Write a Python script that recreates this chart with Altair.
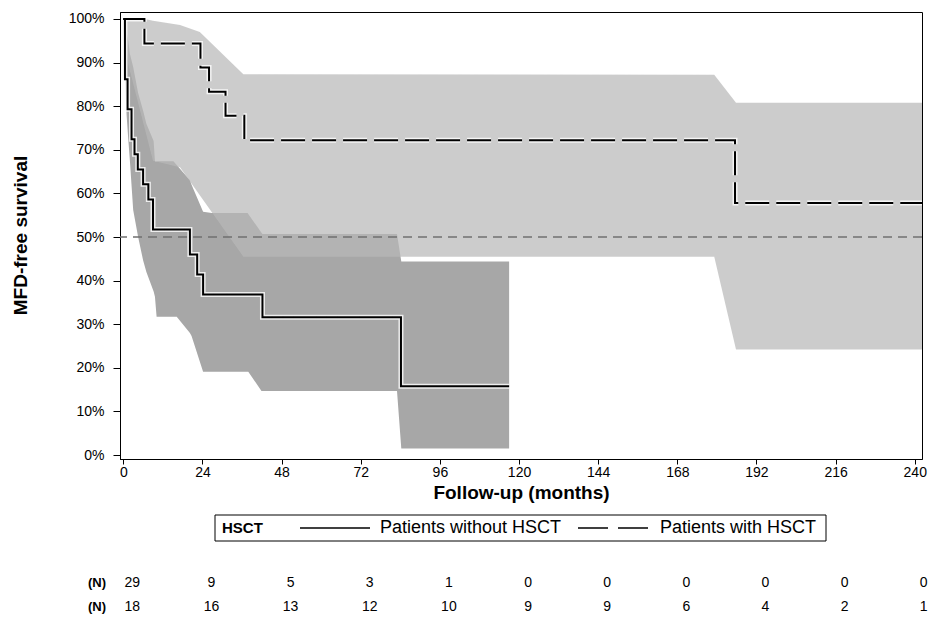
import altair as alt
import pandas as pd

# ---------------- data ----------------
GROUPS = ["Patients without HSCT", "Patients with HSCT"]
LEGEND_TITLE = "HSCT"

# Kaplan-Meier step curves (months, % MFD-free)
km_without_months = [0, 0.5, 1.3, 2.5, 3.4, 4.4, 6.0, 7.6, 9.0, 20.2, 22.4, 24.2, 42.2, 84.2, 117.0]
km_without_surv = [100, 86.2, 79.3, 72.4, 69.0, 65.5, 62.1, 58.6, 51.7, 46.0, 41.4, 36.8, 31.6, 15.8, 15.8]
km_with_months = [0, 6.4, 23.4, 26.0, 31.0, 36.7, 185.5, 242.2]
km_with_surv = [100, 94.4, 88.9, 83.3, 77.8, 72.2, 57.8, 57.8]

# confidence bands
band_without_months = [0, 0.3, 1, 1.5, 2, 3, 4.5, 6, 7, 9.2, 9.6, 10.1, 15.2, 16.2, 20.2, 20.7,
                       24.2, 26.8, 37.7, 37.9, 41.9, 42.2, 83, 84.3, 117]
band_without_upper = [100, 99, 97, 95, 92, 89, 83, 79, 76, 72, 67.4, 67.4, 67.4, 66.5, 63, 62,
                      55.8, 55.5, 55.5, 55.3, 51, 50.7, 50.7, 44.4, 44.4]
band_without_lower = [100, 91, 78, 72.5, 67.5, 56.2, 50, 44.7, 42, 37.5, 36.3, 31.7, 31.7, 31.7, 28, 27.3,
                      19.1, 19.1, 19.1, 19.1, 14.7, 14.7, 14.7, 1.5, 1.5]

band_with_months = [0, 1.5, 6.4, 6.6, 9, 17.2, 23.2, 36.4, 179.2, 185.8, 242.2]
band_with_upper = [100, 100, 100, 100, 99.6, 98.6, 97, 87.3, 87.2, 80.8, 80.8]
band_with_lower = [100, 89.6, 75.2, 74.6, 67.5, 66, 59.6, 45.5, 45.5, 24.2, 24.2]

# numbers at risk
risk_months = [0, 24, 48, 72, 96, 120, 144, 168, 192, 216, 240]
risk_without = [29, 9, 5, 3, 1, 0, 0, 0, 0, 0, 0]
risk_with = [18, 16, 13, 12, 10, 9, 9, 6, 4, 2, 1]

x_ticks = [0, 24, 48, 72, 96, 120, 144, 168, 192, 216, 240]
y_ticks = [0, 10, 20, 30, 40, 50, 60, 70, 80, 90, 100]

# ---------------- tables ----------------
km = pd.concat([
    pd.DataFrame({"month": km_without_months, "surv": km_without_surv, "group": GROUPS[0]}),
    pd.DataFrame({"month": km_with_months, "surv": km_with_surv, "group": GROUPS[1]}),
])
bandA = pd.DataFrame({"month": band_without_months, "upper": band_without_upper, "lower": band_without_lower})
bandB = pd.DataFrame({"month": band_with_months, "upper": band_with_upper, "lower": band_with_lower})
risk = pd.DataFrame({"month": risk_months, "n_without": risk_without, "n_with": risk_with})

FONT = "Liberation Sans"
xs = alt.Scale(domain=[-1, 242.2], nice=False, zero=False)
ys = alt.Scale(domain=[-0.9, 101.6], nice=False, zero=False)

xaxis = alt.Axis(values=x_ticks, title="Follow-up (months)", grid=False, tickSize=5, labelPadding=1,
                 labelFont=FONT, labelFontSize=14, labelColor="black", tickColor="black",
                 domainColor="black", titleFont=FONT, titleFontSize=19, titleFontWeight="bold",
                 titleColor="black", titleY=33, titleBaseline="middle", labelFlush=False)
yaxis = alt.Axis(values=y_ticks, labelExpr="datum.value + '%'", title="MFD-free survival", grid=False,
                 tickSize=7, labelPadding=9, labelFont=FONT, labelFontSize=14, labelColor="black",
                 tickColor="black", domainColor="black", titleFont=FONT, titleFontSize=19,
                 titleFontWeight="bold", titleColor="black", titleAngle=270, titleX=-100, titleY=223,
                 titleAlign="center", titleBaseline="middle")

band_a = alt.Chart(bandA).mark_area(color="#a7a7a7", opacity=1).encode(
    x=alt.X("month:Q", scale=xs, axis=xaxis),
    y=alt.Y("lower:Q", scale=ys, axis=yaxis),
    y2="upper:Q",
)
band_b = alt.Chart(bandB).mark_area(color="#b8b8b8", opacity=0.72).encode(
    x=alt.X("month:Q", scale=xs),
    y=alt.Y("lower:Q", scale=ys),
    y2="upper:Q",
)
ref = alt.Chart(pd.DataFrame({"y": [50]})).mark_rule(color="#707070", strokeDash=[9, 6], strokeWidth=1.5).encode(
    y=alt.Y("y:Q", scale=ys)
)

halo_a = alt.Chart(km).transform_filter(alt.datum.group == GROUPS[0]).mark_line(
    interpolate="step-after", color="white", strokeWidth=5, opacity=0.8).encode(
    x=alt.X("month:Q", scale=xs), y=alt.Y("surv:Q", scale=ys))
halo_b = alt.Chart(km).transform_filter(alt.datum.group == GROUPS[1]).mark_line(
    interpolate="step-after", color="white", strokeWidth=5, opacity=0.8, strokeDash=[24, 7]).encode(
    x=alt.X("month:Q", scale=xs), y=alt.Y("surv:Q", scale=ys))

lines = alt.Chart(km).mark_line(interpolate="step-after", color="black", strokeWidth=2).encode(
    x=alt.X("month:Q", scale=xs),
    y=alt.Y("surv:Q", scale=ys),
    strokeDash=alt.StrokeDash("group:N", scale=alt.Scale(domain=GROUPS, range=[[1, 0], [24, 7]]),
                              legend=None),
)

# ---------------- legend box (drawn below the x-axis title) ----------------
leg_df = pd.DataFrame({"title": [LEGEND_TITLE], "g0": [GROUPS[0]], "g1": [GROUPS[1]]})
leg_box = alt.Chart(leg_df).mark_rect(filled=False, stroke="black", strokeWidth=1).encode(
    x=alt.value(95), x2=alt.value(706), y=alt.value(503), y2=alt.value(529))
leg_title = alt.Chart(leg_df).mark_text(font=FONT, fontSize=15, fontWeight="bold", color="black",
                                        align="left", baseline="middle").encode(
    x=alt.value(102), y=alt.value(516), text="title:N")
leg_sym0 = alt.Chart(leg_df).mark_rule(color="black", strokeWidth=1.5).encode(
    x=alt.value(180), x2=alt.value(250), y=alt.value(516))
leg_sym1 = alt.Chart(leg_df).mark_rule(color="black", strokeWidth=1.5, strokeDash=[30, 10]).encode(
    x=alt.value(458), x2=alt.value(528), y=alt.value(516))
leg_lab0 = alt.Chart(leg_df).mark_text(font=FONT, fontSize=18, color="black", align="left",
                                       baseline="middle").encode(
    x=alt.value(260), y=alt.value(516), text="g0:N")
leg_lab1 = alt.Chart(leg_df).mark_text(font=FONT, fontSize=18, color="black", align="left",
                                       baseline="middle").encode(
    x=alt.value(540), y=alt.value(516), text="g1:N")

# ---------------- numbers at risk ----------------
risk_row1 = alt.Chart(risk).mark_text(font=FONT, fontSize=14, color="black", dx=9, baseline="middle").encode(
    x=alt.X("month:Q", scale=xs), y=alt.value(571), text="n_without:Q")
risk_row2 = alt.Chart(risk).mark_text(font=FONT, fontSize=14, color="black", dx=9, baseline="middle").encode(
    x=alt.X("month:Q", scale=xs), y=alt.value(595), text="n_with:Q")
nlab = pd.DataFrame({"t": ["(N)", "(N)"], "row": [571, 595]})
n_labels = alt.Chart(nlab).mark_text(font=FONT, fontSize=13, fontWeight="bold", color="black",
                                      baseline="middle").encode(
    x=alt.value(-23), y=alt.Y("row:Q", scale=None), text="t:N")

chart = alt.layer(band_a, band_b, ref, halo_a, halo_b, lines,
                  leg_box, leg_title, leg_sym0, leg_sym1, leg_lab0, leg_lab1,
                  risk_row1, risk_row2, n_labels).properties(
    width=802, height=447,
    autosize=alt.AutoSizeParams(type="none"),
    padding={"left": 112, "top": 4, "right": 6, "bottom": 155},
).configure_view(stroke="black", strokeWidth=1)

chart.save("out.html", embed_options={"renderer": "svg", "actions": False})
